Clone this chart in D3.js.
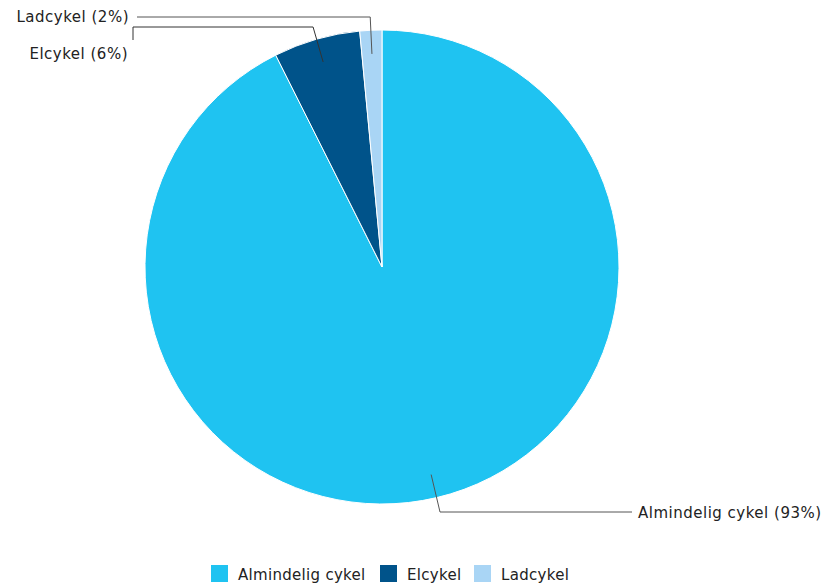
<!DOCTYPE html>
<html><head><meta charset="utf-8">
<script src="https://cdn.jsdelivr.net/npm/d3@7"></script>
<style>body{margin:0;background:#fff}svg{display:block}text{font-family:"DejaVu Sans",Verdana,sans-serif}</style>
</head><body>
<svg id="c" width="824" height="587"></svg>
<script>
const categories = ["Almindelig cykel", "Elcykel", "Ladcykel"];
const values = [92.6, 5.9, 1.5];
const labelText = ["Almindelig cykel (93%)", "Elcykel (6%)", "Ladcykel (2%)"];
const colors = ["#1fc3f1", "#00538a", "#a9d5f5"];

const svg = d3.select("#c");
const cx = 382, cy = 267, R = 237;

const data = categories.map((c, i) => ({cat: c, v: values[i], label: labelText[i], color: colors[i]}));
const pie = d3.pie().sort(null).value(d => d.v);
const arcs = pie(data);
const arc = d3.arc().innerRadius(0).outerRadius(R);

const g = svg.append("g").attr("transform", `translate(${cx},${cy})`);
g.selectAll("path").data(arcs).join("path")
  .attr("d", arc).attr("fill", d => d.data.color)
  .attr("stroke", "#fff").attr("stroke-width", 1).attr("stroke-linejoin", "round");

const layout = [
  {yElbow: 245, xEnd: 250, tx: 256, anchor: "start", ty: 246, tick: 0},
  {yElbow: -240, xEnd: -249, tx: -254, anchor: "end", ty: -213, tick: 13},
  {yElbow: -250, xEnd: -245, tx: -253, anchor: "end", ty: -250, tick: 0}
];

arcs.forEach((a, i) => {
  const mid = (a.startAngle + a.endAngle) / 2;
  const sx = Math.sin(mid), sy = -Math.cos(mid);
  const r0 = 0.9 * R;
  const p0 = [sx * r0, sy * r0];
  const L = layout[i];
  const t = L.yElbow / sy;
  const p1 = [sx * t, L.yElbow];
  const pts = [p0, p1, [L.xEnd, L.yElbow]];
  if (L.tick) pts.push([L.xEnd, L.yElbow + L.tick]);
  g.append("path").attr("d", d3.line()(pts))
    .attr("fill", "none").attr("stroke", i === 1 ? "#333" : "#555").attr("stroke-width", 1);
  g.append("text").attr("x", L.tx).attr("y", L.ty).attr("dy", "0.35em")
    .attr("text-anchor", L.anchor).attr("font-size", 15).attr("letter-spacing", "0.5px")
    .attr("fill", "#222").text(a.data.label);
});

const legendX = [211, 380, 474];
const lg = svg.append("g");
data.forEach((d, i) => {
  lg.append("rect").attr("x", legendX[i]).attr("y", 565).attr("width", 17).attr("height", 17).attr("fill", d.color);
  lg.append("text").attr("x", legendX[i] + 27).attr("y", 575).attr("dy", "0.35em")
    .attr("font-size", 15).attr("letter-spacing", "0.3px").attr("fill", "#222").text(d.cat);
});
</script>
</body></html>
